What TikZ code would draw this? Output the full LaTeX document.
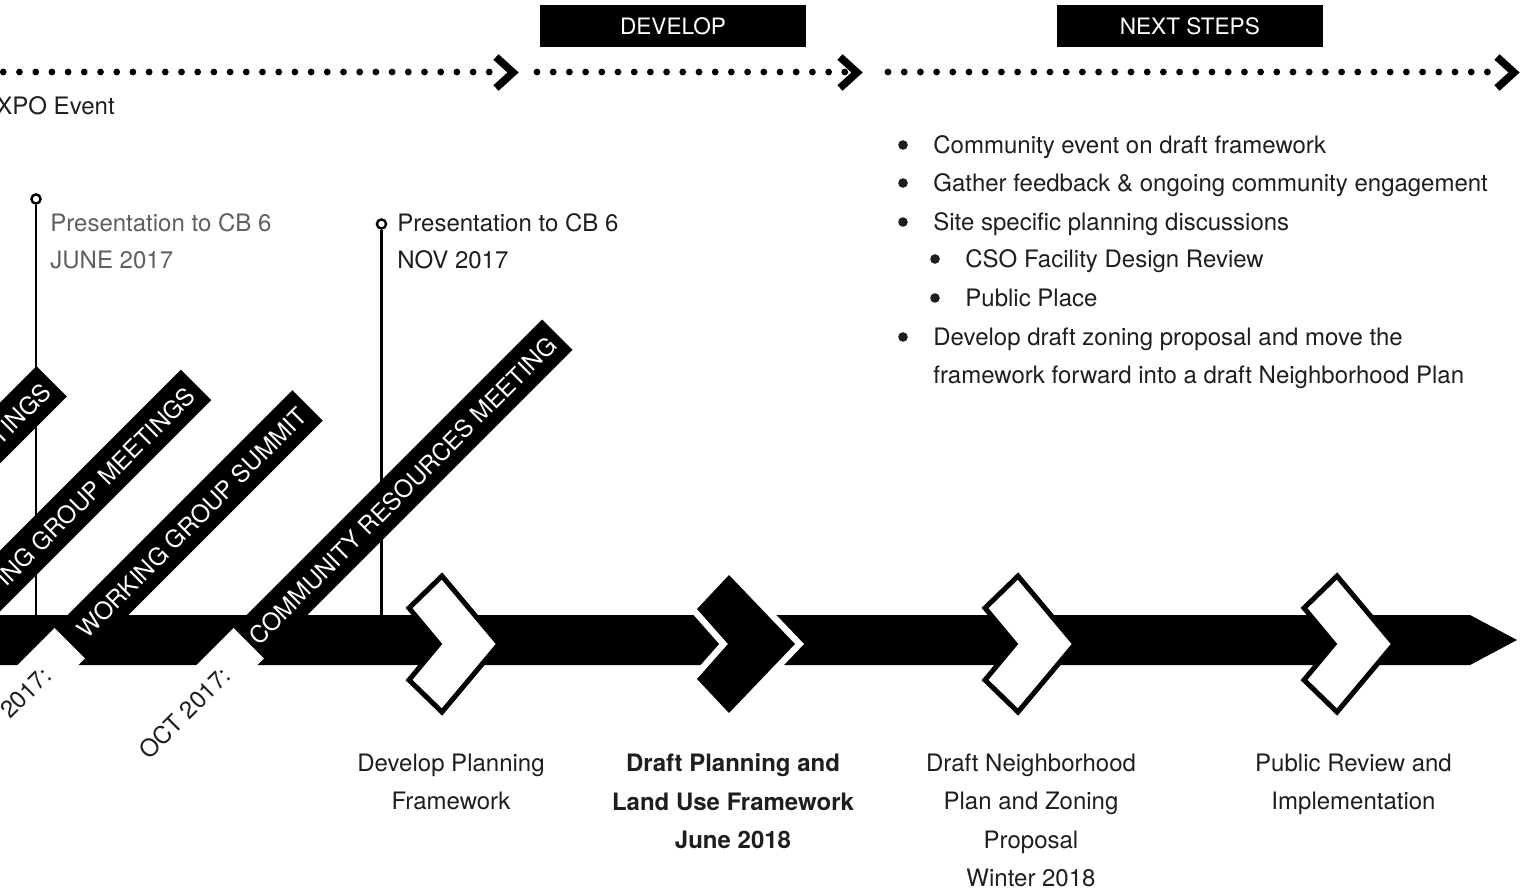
\documentclass[tikz,border=0pt]{standalone}
\usepackage{fontspec}
\setmainfont{TeX Gyre Heros}
\usepackage{tikz}
\usetikzlibrary{positioning}
\definecolor{inkColor}{RGB}{30,30,30}
\definecolor{fadedColor}{RGB}{95,95,95}
\tikzstyle{timeline} = [x = 0.5pt, y = -0.5pt]
\newcommand{\bodyFont}{\fontsize{12}{19.2}\selectfont}
\newcommand{\bandHalf}{21.5}
\newcommand{\cutY}{643}
\tikzstyle{barStyle} = [fill=black]
\tikzstyle{bandStyle} = [fill=black]
\tikzstyle{cutStyle} = [fill=white]
\tikzstyle{bandText} = [text=white, font=\bodyFont, inner sep=0pt, anchor=east, transform shape]
\tikzstyle{dateText} = [text=inkColor, font=\bodyFont, inner sep=0pt, anchor=east, transform shape]
\tikzstyle{openChevronStyle} = [draw=black, fill=white, line width=2.5pt, miter limit=10]
\tikzstyle{solidRingStyle} = [draw=white, line width=6.5pt, miter limit=10]
\tikzstyle{dotLine} = [line width=3.4pt, line cap=round, dash pattern=on 0pt off 8.1pt]
\tikzstyle{dotHead} = [line width=3.8pt, miter limit=10]
\tikzstyle{phaseBox} = [fill=black, text=white, inner sep=0pt, minimum width=133pt, minimum height=21pt, font=\fontsize{11.3}{13}\selectfont]
\tikzstyle{milestonePin} = [circle, draw=black, fill=white, line width=1.2pt, inner sep=0pt, minimum size=4.6pt]
\tikzstyle{pinLine} = [line width=1.25pt]
\tikzstyle{pinText} = [anchor=north west, align=left, inner sep=0pt, font=\fontsize{12}{18.4}\selectfont]
\tikzstyle{stepText} = [anchor=north, align=center, inner sep=0pt, text=inkColor, font=\bodyFont]
\tikzstyle{listText} = [anchor=base west, inner sep=0pt, text=inkColor, font=\bodyFont]
\newcommand{\dotRun}[3]{
  \draw [dotLine] (#1, 72) -- (#2, 72);
  \draw [dotHead] (#3, 57) -- (#3 + 17, 72.5) -- (#3, 88);
}
\newcommand{\milestoneBand}[4]{
  \begin{scope}[shift={(#1 - \cutY, \cutY)}, rotate=45]
    \fill [cutStyle] (-90, -\bandHalf) rectangle (0, \bandHalf);
    \fill [bandStyle] (0, -\bandHalf) rectangle (#2, \bandHalf);
    \node [bandText] (#4Label) at (#2 - 8, 1) {#3};
  \end{scope}
}
\newcommand{\bandDate}[3]{
  \begin{scope}[shift={(#1 - \cutY, \cutY)}, rotate=45]
    \node [dateText] (#3Date) at (-36, 4) {#2};
  \end{scope}
}
\newcommand{\openChevron}[1]{\filldraw [openChevronStyle] (#1 - 60, 576) -- (#1 - 3, 644) -- (#1 - 60, 712) -- (#1 - 93, 680) -- (#1 - 63, 644) -- (#1 - 93, 608) -- cycle;}
\newcommand{\solidChevron}[1]{
  \draw [solidRingStyle] (#1 - 66, 575) -- (#1, 644) -- (#1 - 66, 713) -- (#1 - 98, 679) -- (#1 - 67, 644) -- (#1 - 98, 609) -- cycle;
  \fill [black] (#1 - 66, 575) -- (#1, 644) -- (#1 - 66, 713) -- (#1 - 98, 679) -- (#1 - 67, 644) -- (#1 - 98, 609) -- cycle;
}
\begin{document}
\begin{tikzpicture}[timeline]
  \useasboundingbox (0,0) rectangle (1531,894);

  % phases along the top
  \node [phaseBox] (develop) at (673, 26) {DEVELOP};
  \node [phaseBox, right=125pt of develop] (nextSteps) {NEXT STEPS};
  \dotRun{3.3}{491}{496}
  \dotRun{537}{846}{840}
  \dotRun{888}{1489}{1497}
  \node [listText] (expo) at (-4, 114.6) {XPO Event};

  % presentations
  \node [milestonePin] (pinJune) at (36, 199) {};
  \node [milestonePin] (pinNov) at (381.5, 224) {};
  \coordinate (pinJuneFoot) at (36, 615);
  \coordinate (pinNovFoot) at (381.5, 615);
  \draw [pinLine] (pinJune) -- (pinJuneFoot);
  \draw [pinLine] (pinNov) -- (pinNovFoot);
  \node [pinText, text=fadedColor] (juneText) at (50, 213.4) {Presentation to CB 6\\JUNE 2017};
  \node [pinText, text=inkColor] (novText) at (397, 213.4) {Presentation to CB 6\\NOV 2017};

  % main bar
  \fill [barStyle] (-10, 615) -- (1470, 615) -- (1517, 640) -- (1470, 665) -- (-10, 665) -- cycle;

  % meetings
  \milestoneBand{433}{370}{TINGS}{meetA}
  \milestoneBand{581}{365}{ING GROUP MEETINGS}{meetB}
  \milestoneBand{713}{336}{WORKING GROUP SUMMIT}{summit}
  \milestoneBand{892}{436}{COMMUNITY RESOURCES MEETING}{resources}
  \bandDate{713}{2017:}{summit}
  \bandDate{892}{OCT 2017:}{resources}

  % steps
  \openChevron{502}
  \solidChevron{795}
  \openChevron{1078}
  \openChevron{1397}
  \node [stepText] (stepDevelop) at (451, 753.4) {Develop Planning\\Framework};
  \node [stepText, font=\bodyFont\bfseries] (stepDraft) at (733, 753.4) {Draft Planning and\\Land Use Framework\\June 2018};
  \node [stepText] (stepPlan) at (1031, 753.4) {Draft Neighborhood\\Plan and Zoning\\Proposal\\Winter 2018};
  \node [stepText] (stepReview) at (1353.5, 753.4) {Public Review and\\Implementation};

  % next steps list
  \foreach \lineY/\shiftX/\itemText in {
    145/0/{Community event on draft framework},
    183/0/{Gather feedback \& ongoing community engagement},
    222/0/{Site specific planning discussions},
    259/32/{CSO Facility Design Review},
    298/32/{Public Place},
    337/0/{Develop draft zoning proposal and move the}} {
    \fill [inkColor] (903 + \shiftX, \lineY) circle (2.4pt);
    \node [listText] (item\lineY) at (933 + \shiftX, \lineY + 8.6) {\itemText};
  }
  \node [listText] (item375) at (933, 383.6) {framework forward into a draft Neighborhood Plan};
\end{tikzpicture}
\end{document}
